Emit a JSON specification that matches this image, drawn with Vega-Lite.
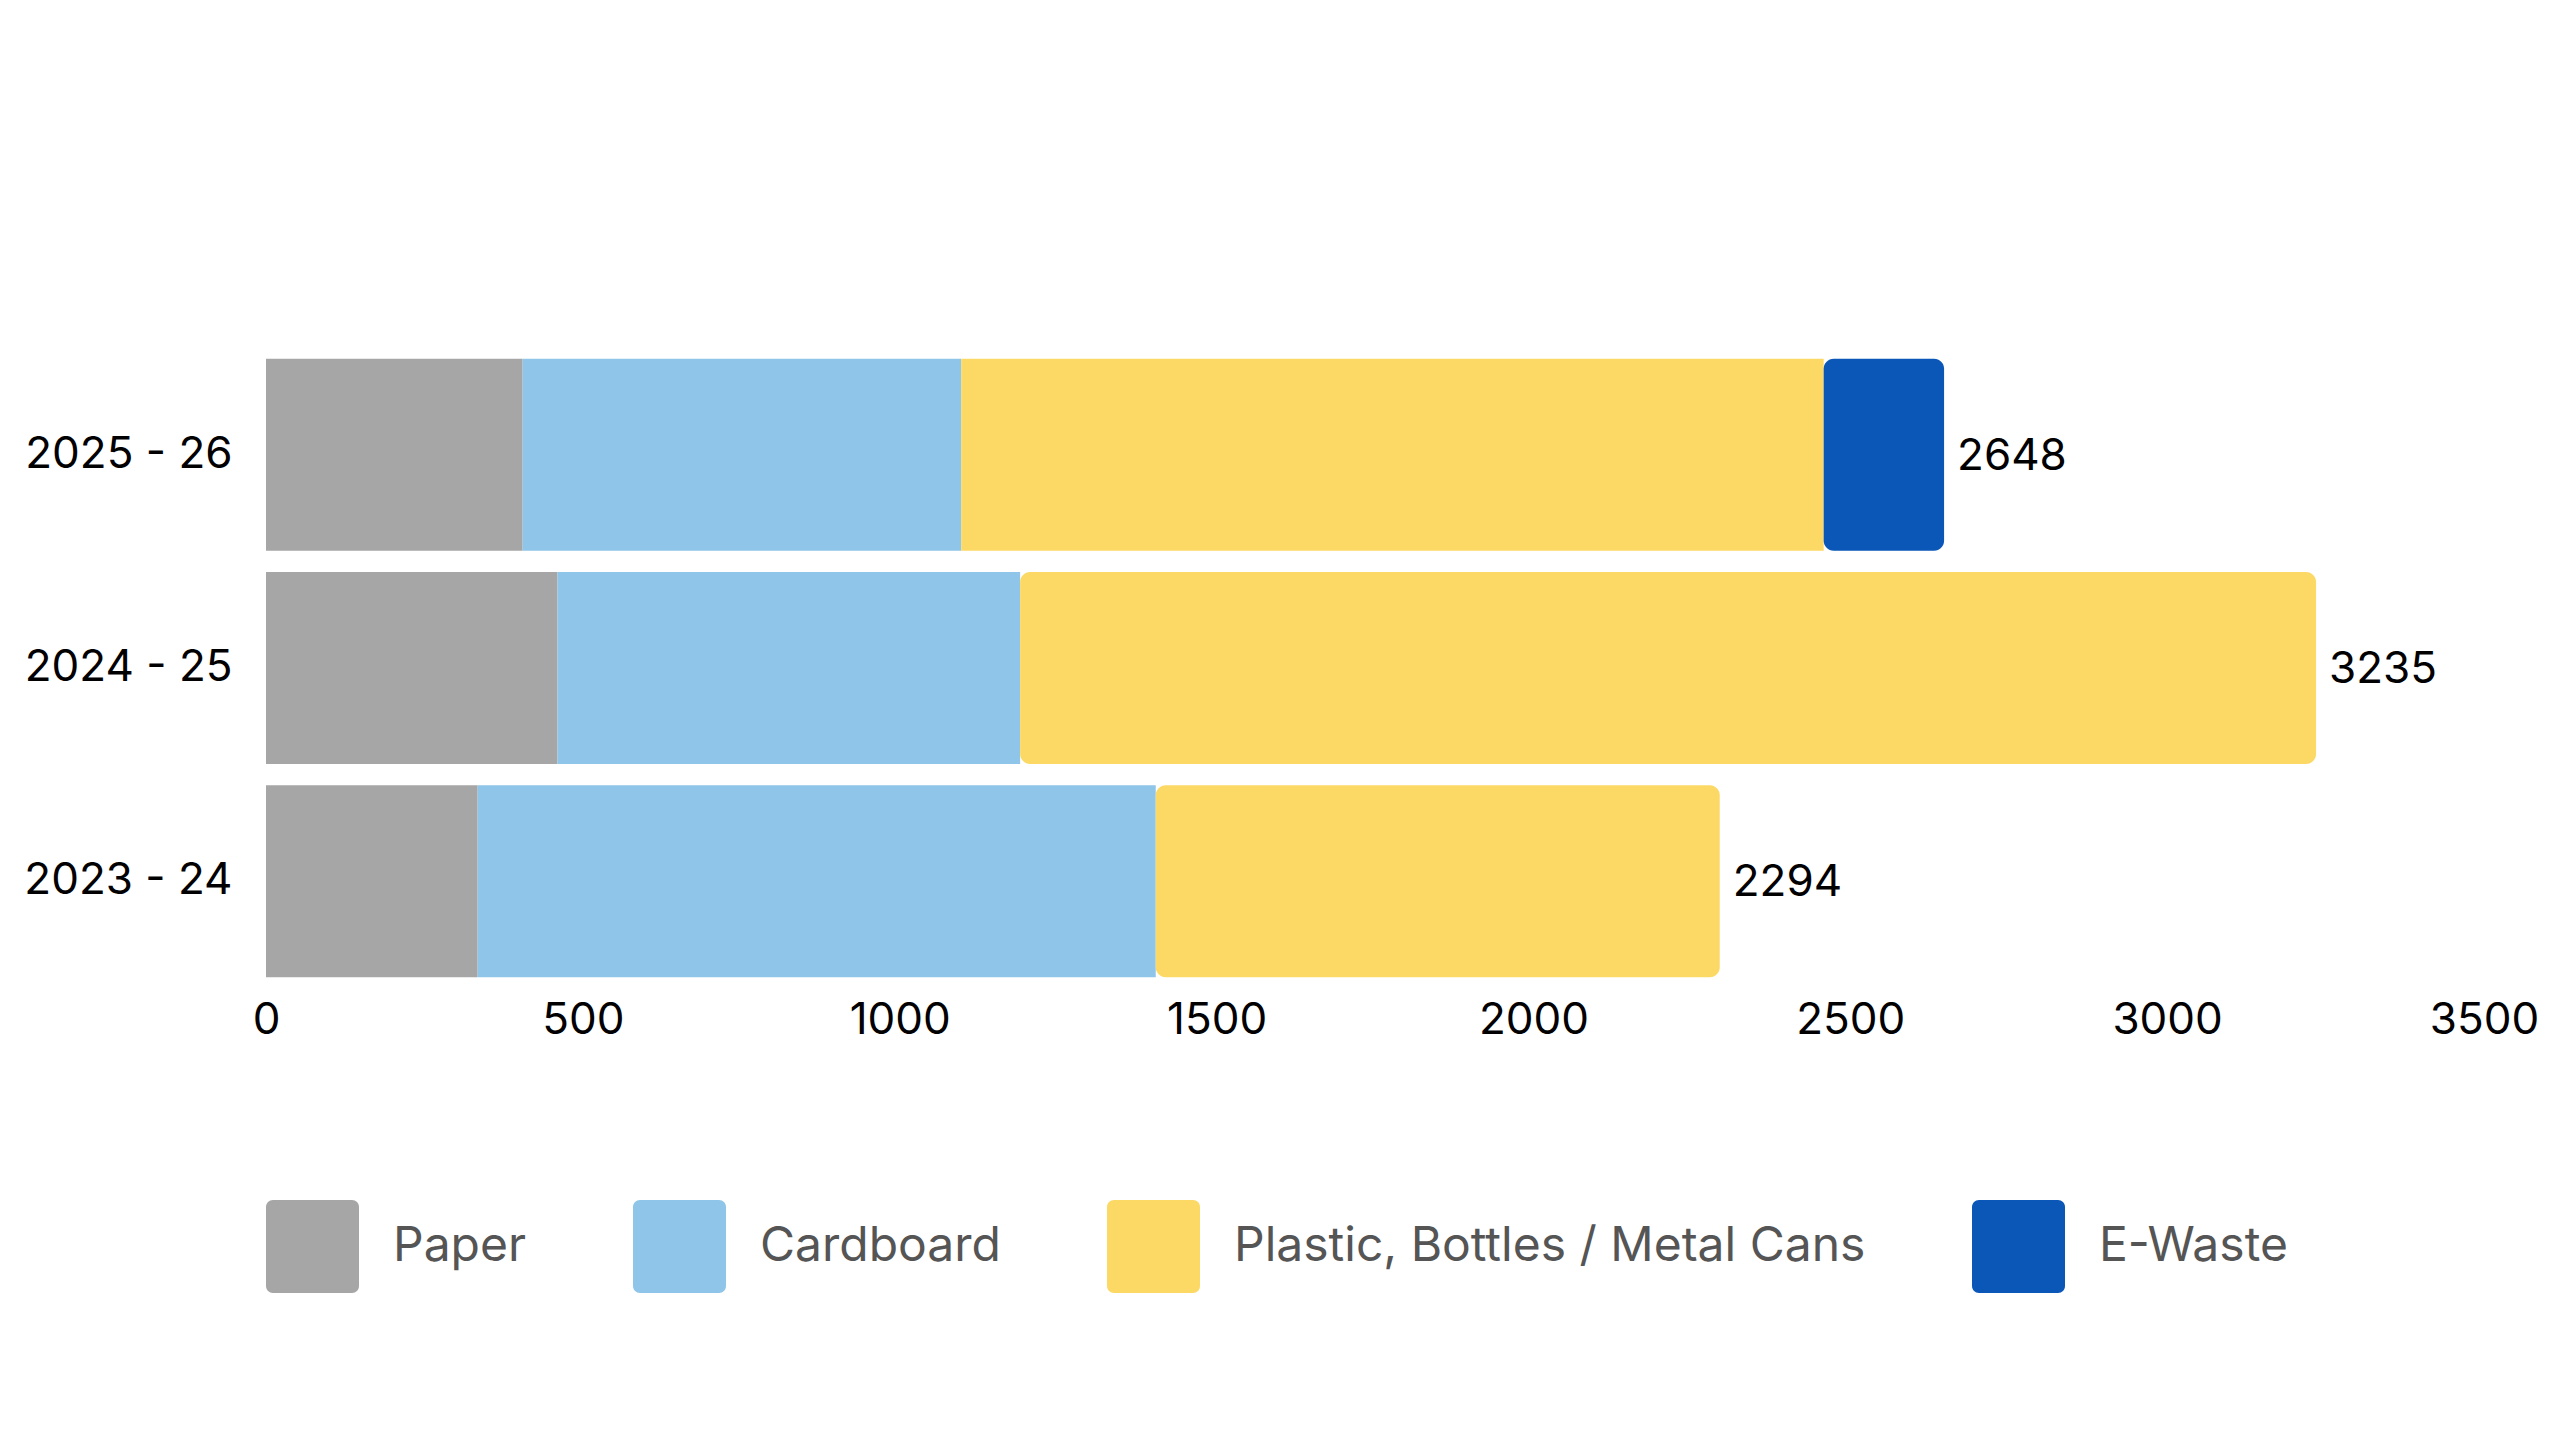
{
  "$schema": "https://vega.github.io/schema/vega-lite/v6.json",
  "width": 2218,
  "height": 640,
  "autosize": {"type": "none"},
  "padding": {"left": 266, "top": 348, "right": 76, "bottom": 452},
  "background": "white",
  "config": {
    "font": "Inter",
    "view": {"stroke": null}
  },
  "data": {
    "values": [
      {"year": "2025 - 26", "category": "Paper", "value": 405},
      {"year": "2025 - 26", "category": "Cardboard", "value": 692},
      {"year": "2025 - 26", "category": "Plastic, Bottles / Metal Cans", "value": 1361},
      {"year": "2025 - 26", "category": "E-Waste", "value": 190},
      {"year": "2024 - 25", "category": "Paper", "value": 460},
      {"year": "2024 - 25", "category": "Cardboard", "value": 730},
      {"year": "2024 - 25", "category": "Plastic, Bottles / Metal Cans", "value": 2045},
      {"year": "2023 - 24", "category": "Paper", "value": 334},
      {"year": "2023 - 24", "category": "Cardboard", "value": 1070},
      {"year": "2023 - 24", "category": "Plastic, Bottles / Metal Cans", "value": 890}
    ]
  },
  "transform": [
    {"calculate": "indexof(['Paper','Cardboard','Plastic, Bottles / Metal Cans','E-Waste'], datum.category)", "as": "seq"},
    {"stack": "value", "groupby": ["year"], "sort": [{"field": "seq", "order": "ascending"}], "as": ["x0", "x1"]},
    {"joinaggregate": [{"op": "max", "field": "x1", "as": "total"}], "groupby": ["year"]}
  ],
  "encoding": {
    "y": {
      "field": "year",
      "type": "nominal",
      "sort": ["2025 - 26", "2024 - 25", "2023 - 24"],
      "scale": {"paddingInner": 0.1, "paddingOuter": 0.05},
      "axis": {
        "title": null,
        "domain": false,
        "ticks": false,
        "labelFontSize": 44,
        "labelPadding": 34,
        "labelLimit": 0,
        "labelColor": "#000000"
      }
    }
  },
  "layer": [
    {
      "transform": [{"filter": "datum.x1 < datum.total"}],
      "mark": {"type": "bar"},
      "encoding": {
        "x": {
          "field": "x0",
          "type": "quantitative",
          "scale": {"domain": [0, 3500], "nice": false},
          "axis": {
            "title": null,
            "domain": false,
            "ticks": false,
            "grid": false,
            "format": "d",
            "values": [0, 500, 1000, 1500, 2000, 2500, 3000, 3500],
            "labelFlush": false,
            "labelFontSize": 44,
            "labelPadding": 10,
            "labelColor": "#000000"
          }
        },
        "x2": {"field": "x1"},
        "color": {
          "field": "category",
          "type": "nominal",
          "scale": {
            "domain": ["Paper", "Cardboard", "Plastic, Bottles / Metal Cans", "E-Waste"],
            "range": ["#A6A6A6", "#8FC5E8", "#FCD965", "#0A57B8"]
          },
          "legend": {
            "title": null,
            "orient": "none",
            "legendX": 0,
            "legendY": 852,
            "direction": "horizontal",
            "symbolType": "M -0.85 -1 H 0.85 A 0.15 0.15 0 0 1 1 -0.85 V 0.85 A 0.15 0.15 0 0 1 0.85 1 H -0.85 A 0.15 0.15 0 0 1 -1 0.85 V -0.85 A 0.15 0.15 0 0 1 -0.85 -1 Z",
            "symbolSize": 8649,
            "symbolStrokeWidth": 0,
            "symbolOpacity": 1,
            "labelFontSize": 48,
            "labelLimit": 0,
            "labelColor": "#555555",
            "labelOffset": 34,
            "columnPadding": 105
          }
        }
      }
    },
    {
      "transform": [{"filter": "datum.x1 == datum.total"}],
      "mark": {"type": "bar", "cornerRadiusEnd": 10},
      "encoding": {
        "x": {"field": "x0", "type": "quantitative"},
        "x2": {"field": "x1"},
        "color": {"field": "category", "type": "nominal"}
      }
    },
    {
      "transform": [{"filter": "datum.x1 == datum.total"}],
      "mark": {"type": "text", "align": "left", "baseline": "middle", "dx": 13, "dy": 2, "fontSize": 44, "color": "#000000"},
      "encoding": {
        "x": {"field": "x1", "type": "quantitative"},
        "text": {"field": "total", "type": "quantitative"}
      }
    }
  ]
}
